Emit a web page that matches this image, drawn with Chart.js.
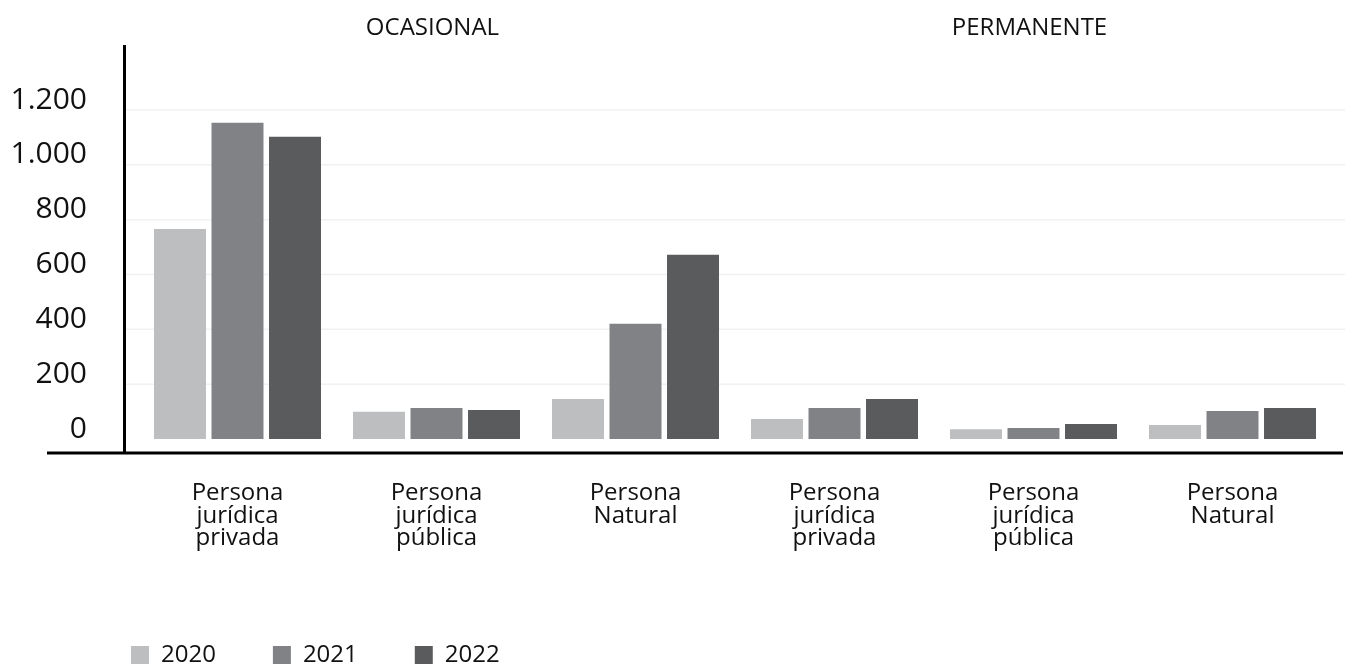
<!DOCTYPE html>
<html lang="es">
<head>
  <meta charset="UTF-8">
  <title>Ocasional / Permanente</title>
  <script src="https://cdn.jsdelivr.net/npm/chart.js"></script>
  <style>
    html, body {
      margin: 0;
      padding: 0;
      background: #fff;
      overflow: hidden;
    }
  </style>
</head>
<body>
<canvas id="chart" width="1348" height="667"></canvas>

<script>
  const categories = [
    ['Persona', 'jurídica', 'privada'],
    ['Persona', 'jurídica', 'pública'],
    ['Persona', 'Natural'],
    ['Persona', 'jurídica', 'privada'],
    ['Persona', 'jurídica', 'pública'],
    ['Persona', 'Natural']
  ];
  const groups = ['OCASIONAL', 'PERMANENTE'];
  const years = ['2020', '2021', '2022'];
  const values2020 = [766, 99, 146, 73, 36, 51];
  const values2021 = [1153, 113, 420, 113, 40, 102];
  const values2022 = [1102, 106, 672, 146, 55, 113];
  const yTicks = [0, 200, 400, 600, 800, 1000, 1200];
  const colors = ['#bdbec0', '#818285', '#5a5b5d'];

  Chart.defaults.font.family = "'Open Sans', sans-serif";
  Chart.defaults.color = '#111';

  const fmt = v => String(v).replace(/\B(?=(\d{3})+(?!\d))/g, '.');

  // axis lines, faint grid and the two group headings
  const frame = {
    id: 'frame',
    afterLayout(chart) {
      // legend sits lower and further right in the original
      chart.legend.top += 10;
      chart.legend.bottom += 10;
      chart.legend.left += 74;
      chart.legend.right += 74;
    },
    beforeDatasetsDraw(chart) {
      const {ctx, chartArea, scales: {y}} = chart;
      ctx.save();
      ctx.strokeStyle = '#f1f1f1';
      ctx.lineWidth = 1.5;
      yTicks.slice(1).forEach(v => {
        const py = y.getPixelForValue(v);
        ctx.beginPath();
        ctx.moveTo(chartArea.left - 13, py);
        ctx.lineTo(chartArea.right + 13, py);
        ctx.stroke();
      });
      ctx.restore();
    },
    afterDatasetsDraw(chart) {
      const {ctx, chartArea, scales: {x}} = chart;
      ctx.save();
      ctx.strokeStyle = '#000';
      ctx.lineWidth = 3;
      ctx.beginPath();
      ctx.moveTo(chartArea.left - 13.5, chartArea.top);
      ctx.lineTo(chartArea.left - 13.5, chartArea.bottom);
      ctx.stroke();
      ctx.beginPath();
      ctx.moveTo(47, chartArea.bottom);
      ctx.lineTo(chartArea.right + 11, chartArea.bottom);
      ctx.stroke();

      ctx.fillStyle = '#111';
      ctx.font = "24px 'Open Sans', sans-serif";
      ctx.textAlign = 'center';
      ctx.textBaseline = 'middle';
      groups.forEach((g, i) => {
        const first = x.getPixelForValue(i * 3);
        const last = x.getPixelForValue(i * 3 + 2);
        ctx.fillText(g, (first + last) / 2 - 4, chartArea.top - 17);
      });
      ctx.restore();
    }
  };

  new Chart(document.getElementById('chart'), {
    type: 'bar',
    data: {
      labels: categories,
      datasets: [
        { label: years[0], data: values2020, backgroundColor: colors[0] },
        { label: years[1], data: values2021, backgroundColor: colors[1] },
        { label: years[2], data: values2022, backgroundColor: colors[2] }
      ]
    },
    options: {
      responsive: false,
      animation: false,
      borderWidth: 0,
      categoryPercentage: 0.867,
      barPercentage: 0.904,
      layout: {
        padding: { top: 45, right: 16, left: 0, bottom: 0 }
      },
      plugins: {
        tooltip: { enabled: false },
        legend: {
          position: 'bottom',
          align: 'start',
          labels: {
            boxWidth: 18,
            boxHeight: 18,
            padding: 57,
            font: { size: 24 },
            color: '#111'
          }
        }
      },
      scales: {
        x: {
          grid: { display: false, drawTicks: false },
          border: { display: false },
          ticks: {
            padding: 29,
            maxRotation: 0,
            autoSkip: false,
            font: { size: 24, lineHeight: 0.94 },
            color: '#111'
          },
          afterFit(scale) {
            scale.height = 123;
            scale.paddingLeft = 0;
            scale.paddingRight = 0;
          }
        },
        y: {
          min: -51,
          max: 1437,
          grid: { display: false, drawTicks: false },
          border: { display: false },
          afterBuildTicks(scale) {
            scale.ticks = yTicks.map(v => ({ value: v }));
          },
          ticks: {
            padding: 51,
            labelOffset: -10,
            font: { size: 30 },
            color: '#111',
            callback: v => fmt(v)
          },
          afterFit(scale) {
            scale.width = 138;
            scale.paddingTop = 0;
            scale.paddingBottom = 0;
          }
        }
      }
    },
    plugins: [frame]
  });
</script>
</body>
</html>
